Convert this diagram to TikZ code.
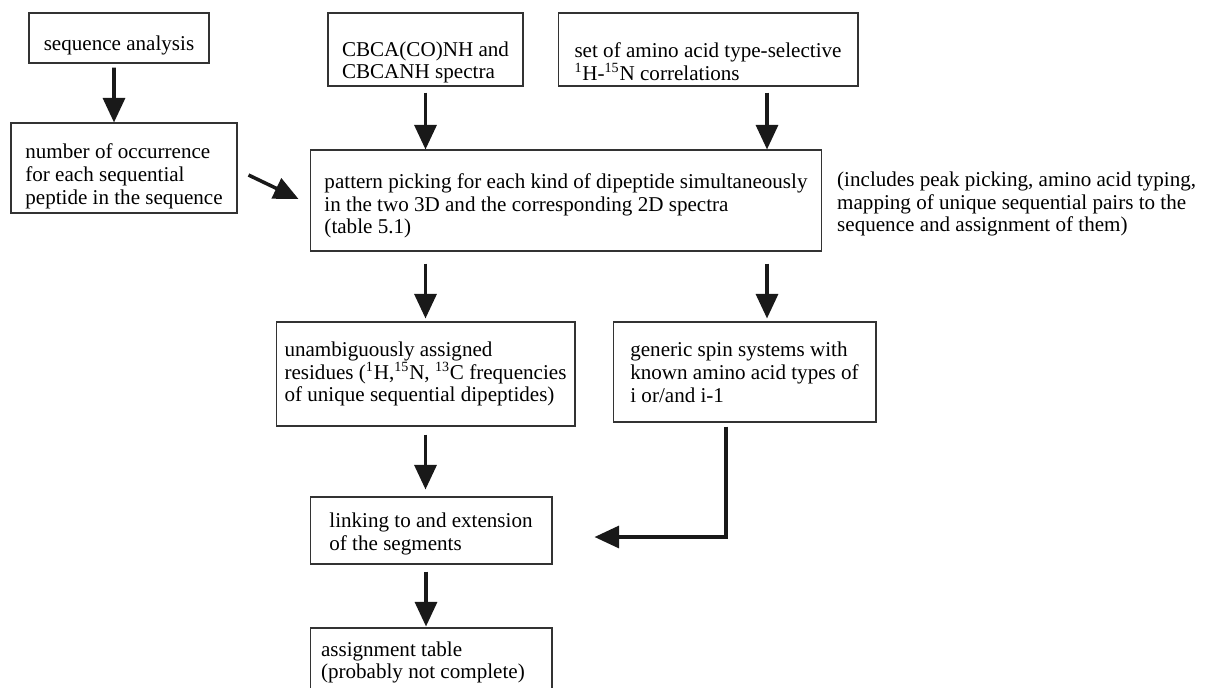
\documentclass[tikz,border=0pt]{standalone}
\usepackage{fontspec}
\setmainfont{Liberation Serif}
\usetikzlibrary{arrows.meta,calc}
% invisible strut that pushes the text block down inside its box
\newcommand{\topgap}[1]{\rule{0pt}{#1}}
\begin{document}
\begin{tikzpicture}[box/.style={draw=black!80,line width=0.6pt,inner xsep=2pt,inner ysep=0pt,align=left,font=\fontsize{12}{13}\selectfont},
arr/.style={line width=2pt,draw=black!90,-{Triangle[length=14pt,width=12.5pt]}},
x=0.02cm,y=-0.02cm]
\useasboundingbox (0,0) rectangle (1206,687);
\clip (0,0) rectangle (1206,687);
% top row
\node[box,minimum width=3.6cm,minimum height=1cm] (seq) at (119,38) {\topgap{17pt}sequence analysis};
\node[box,minimum width=3.9cm,minimum height=1.46cm] (cbca) at (425.5,49.5) {\topgap{23pt}CBCA(CO)NH and\\CBCANH spectra};
\node[box,minimum width=6cm,minimum height=1.46cm] (sel) at (708,49.5) {\topgap{22pt}set of amino acid type-selective\\\textsuperscript{1}H-\textsuperscript{15}N correlations};
\node[box,minimum width=4.52cm,minimum height=1.8cm] (num) at (124,168) {\topgap{18pt}number of occurrence\\for each sequential\\peptide in the sequence};
\node[box,minimum width=10.24cm,minimum height=2.02cm] (pat) at (566,200.5) {\topgap{14.5pt}pattern picking for each kind of dipeptide simultaneously\\in the two 3D and the corresponding 2D spectra\\(table 5.1)};
\node[anchor=west,align=left,font=\fontsize{12}{13}\selectfont] (note) at (831,204) {(includes peak picking, amino acid typing,\\mapping of unique sequential pairs to the\\sequence and assignment of them)};
% results
\node[box,minimum width=5.98cm,minimum height=2.08cm] (unamb) at (425.5,374) {unambiguously assigned\\residues (\textsuperscript{1}H,\textsuperscript{15}N, \textsuperscript{13}C frequencies\\of unique sequential dipeptides)};
\node[box,minimum width=5.26cm,minimum height=2cm] (gen) at (744.5,372) {generic spin systems with\\known amino acid types of\\i or/and i-1};
\node[box,minimum width=4.84cm,minimum height=1.34cm] (link) at (431,530.5) {\topgap{12pt}linking to and extension\\of the segments};
\node[box,align=flush left,inner xsep=0.22cm,text width=4.4cm,minimum height=1.38cm] (assign) at (431,662.5) {assignment table\\(probably not complete)};
% arrows
\draw[arr] ([shift={(-5,4)}]seq.south) -- ([xshift=-0.2cm]num.north);
\draw[arr] ($(cbca.south)+(0,6)$) -- (cbca.south |- pat.north);
\draw[arr] ($(sel.south)+(59,6)$) -- ($(sel.south |- pat.north)+(59,0)$);
\draw[arr] ($(num.east)+(11,7)$) -- ($(pat.west)+(-11,-1.5)$);
\draw[arr] ($(pat.south -| unamb.north)+(0,12)$) -- ($(unamb.north)+(0,-3)$);
\draw[arr] ($(pat.south -| gen.north)+(22.5,12)$) -- ($(gen.north)+(22.5,-3)$);
\draw[arr] ($(unamb.south)+(0,8)$) -- ($(unamb.south |- link.north)+(0,-7)$);
\draw[arr] ($(gen.south)+(-18.5,4)$) |- ($(link.east)+(42,6.5)$);
\draw[arr] ($(link.south)+(-5,7)$) -- ($(assign.north)+(-5,-1)$);
\end{tikzpicture}
\end{document}
